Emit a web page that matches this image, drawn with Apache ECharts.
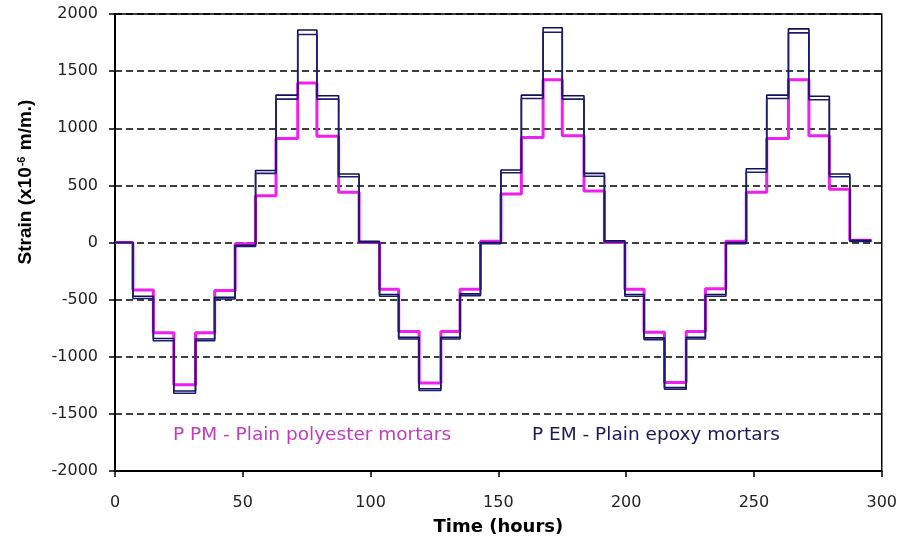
<!DOCTYPE html>
<html>
<head>
<meta charset="utf-8">
<script src="https://cdn.jsdelivr.net/npm/echarts@6/dist/echarts.min.js"></script>
<style>html,body{margin:0;padding:0;background:#fff}#c{width:900px;height:543px}</style>
</head>
<body>
<div id="c"></div>
<script>
// Step start times (hours); last entry is the end of the final step
const stepTimes = [0, 7, 15, 23, 31.5, 39, 47, 55, 63, 71.5, 79, 87.5, 95.5, 103.5, 111, 119, 127.5, 135, 143, 151, 159, 167.5, 175, 183.5, 191.5, 199.5, 207, 215, 223.5, 231, 239, 247, 255, 263.5, 271.5, 279.5, 287.5, 296];

// PPM - Plain polyester mortars (magenta)
const ppm = [0, -415, -790, -1245, -790, -420, -10, 410, 910, 1395, 930, 440, 0, -410, -780, -1230, -780, -410, 10, 425, 920, 1425, 935, 450, 0, -410, -785, -1225, -780, -405, 10, 440, 910, 1425, 935, 465, 20];

// PEM - Plain epoxy mortars (navy, two specimens)
const pem1 = [0, -470, -840, -1300, -845, -480, -25, 630, 1290, 1860, 1285, 600, 10, -455, -830, -1280, -830, -450, 0, 635, 1290, 1880, 1285, 605, 15, -455, -835, -1270, -830, -455, 0, 645, 1290, 1870, 1280, 600, 20];
const pem2 = [0, -490, -860, -1320, -860, -495, -35, 605, 1255, 1820, 1255, 575, 0, -470, -845, -1295, -845, -465, -10, 610, 1260, 1840, 1255, 580, 5, -470, -850, -1285, -845, -470, -10, 615, 1260, 1835, 1250, 575, 10];

const xTicks = [0, 50, 100, 150, 200, 250, 300];
const yTicks = [-2000, -1500, -1000, -500, 0, 500, 1000, 1500, 2000];

const legendPPM = 'P PM - Plain polyester mortars';
const legendPEM = 'P EM - Plain epoxy mortars';

function build(levels) {
  const d = levels.map((v, i) => [stepTimes[i], v]);
  d.push([stepTimes[stepTimes.length - 1], levels[levels.length - 1]]);
  return d;
}

const FONT = 'DejaVu Sans';
const chart = echarts.init(document.getElementById('c'), null, {renderer: 'canvas'});
chart.setOption({
  animation: false,
  backgroundColor: '#fff',
  grid: {left: 115, right: 17, top: 14, bottom: 72, show: true, borderColor: '#000', borderWidth: 1.5, backgroundColor: 'transparent'},
  xAxis: {
    type: 'value', min: xTicks[0], max: xTicks[xTicks.length - 1], interval: 50,
    name: 'Time (hours)', nameLocation: 'middle', nameGap: 47,
    nameTextStyle: {fontFamily: FONT, fontWeight: 'bold', fontSize: 18, color: '#000'},
    axisLine: {show: true, onZero: false, lineStyle: {color: '#000', width: 2}},
    axisTick: {show: true, inside: false, length: 6, lineStyle: {color: '#000', width: 1.5}},
    axisLabel: {margin: 24, fontFamily: FONT, fontSize: 16, color: '#222', formatter: v => String(v)},
    splitLine: {show: false}
  },
  yAxis: {
    type: 'value', min: yTicks[0], max: yTicks[yTicks.length - 1], interval: 500,
    axisLine: {show: true, onZero: false, lineStyle: {color: '#000', width: 2}},
    axisTick: {show: true, inside: false, length: 6, lineStyle: {color: '#000', width: 1.5}},
    axisLabel: {margin: 17, fontFamily: FONT, fontSize: 16, color: '#222', formatter: v => String(v)},
    splitLine: {show: true, lineStyle: {color: '#000', width: 1.5, type: [7, 4]}}
  },
  graphic: [
    {type: 'text', x: 26, y: 182, rotation: Math.PI / 2,
     style: {text: 'Strain (x10{sup|-6} m/m.)', fontFamily: 'Liberation Sans', fontWeight: 'bold', fontSize: 19, fill: '#000', align: 'center', verticalAlign: 'middle',
       rich: {sup: {fontSize: 11, fontWeight: 'bold', fontFamily: 'Liberation Sans', fill: '#000', verticalAlign: 'top', padding: [0, 1, 9, 1]}}}},
    {type: 'text', x: 173, y: 435, style: {text: legendPPM, fontFamily: FONT, fontSize: 18.5, fill: '#c23cc2', align: 'left', verticalAlign: 'middle'}},
    {type: 'text', x: 532, y: 435, style: {text: legendPEM, fontFamily: FONT, fontSize: 18.5, fill: '#1a1a5e', align: 'left', verticalAlign: 'middle'}}
  ],
  series: [
    {type: 'line', name: 'PPM', data: build(ppm), step: 'end', showSymbol: false, lineStyle: {color: '#f01ef0', width: 3}, z: 2},
    {type: 'line', name: 'PEM-1', data: build(pem1), step: 'end', showSymbol: false, lineStyle: {color: '#10105a', width: 1.6}, z: 3},
    {type: 'line', name: 'PEM-2', data: build(pem2), step: 'end', showSymbol: false, lineStyle: {color: '#1c1c70', width: 1.6}, z: 3}
  ]
});
</script>
</body>
</html>
